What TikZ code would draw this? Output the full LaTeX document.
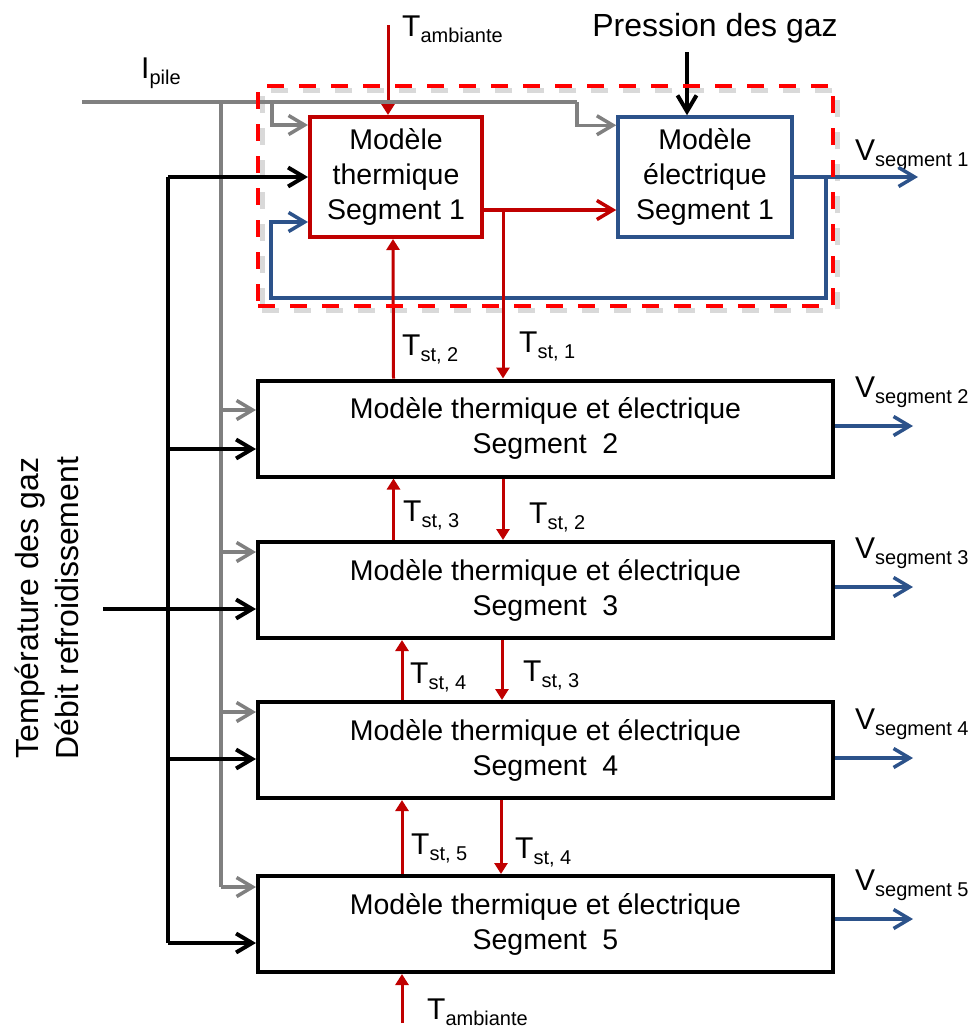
\documentclass[tikz,border=0pt]{standalone}
\usepackage{fontspec}
\setmainfont{Liberation Sans}
\usetikzlibrary{arrows.meta,positioning}
\definecolor{pcred}{RGB}{192,0,0}
\definecolor{pcdash}{RGB}{255,0,0}
\definecolor{pcblue}{RGB}{44,82,138}
\definecolor{pcgray}{RGB}{128,128,128}
\newcommand{\subtx}[1]{\raisebox{-0.22em}{\fontsize{20}{20}\selectfont #1}}

\begin{document}
\begin{tikzpicture}[x=1pt, y=-1pt,
  font=\fontsize{28.5}{35}\selectfont,
  thbox/.style={draw=pcred, line width=4pt, minimum width=172pt,
                minimum height=120pt, align=center, inner sep=0pt},
  elbox/.style={draw=pcblue, line width=3.5pt, minimum width=174pt,
                minimum height=120pt, align=center, inner sep=0pt},
  segbox/.style={draw=black, line width=4pt, minimum width=575pt,
                 minimum height=96pt, align=center, inner sep=0pt},
  grp/.style={draw=pcdash, line width=3.5pt, dash pattern=on 17pt off 15pt,
              minimum width=575pt, minimum height=220pt, inner sep=0pt},
  lab/.style={anchor=base west, inner sep=0pt, font=\fontsize{30}{36}\selectfont},
  opentip/.style={-{Straight Barb[length=16pt,width=19pt]}},
  grayln/.style={draw=pcgray, line width=3.5pt},
  grayarr/.style={grayln, opentip},
  blkln/.style={draw=black, line width=4pt},
  blkarr/.style={blkln, opentip},
  bluarr/.style={draw=pcblue, line width=3.5pt, opentip},
  redopen/.style={draw=pcred, line width=3.5pt, opentip},
  redarr/.style={draw=pcred, line width=3pt, -{Triangle[length=11pt,width=13pt]}}
]
\useasboundingbox (0,0) rectangle (977,1028);

% --- shadow of the segment-1 group ---
\node[grp, draw=black!25, line width=5pt, opacity=0.6] (grpsh) at (549.5,200) {};

% --- segment 1: thermal + electrical ---
\node[thbox] (thermA) at (396,177) {Modèle\\thermique\\Segment 1};
\node[elbox] (elecA) at (705,177) {Modèle\\électrique\\Segment 1};

\node[lab] (tamb1) at (402,36) {T\subtx{ambiante}};
\node[anchor=base, inner sep=0pt, font=\fontsize{32}{38}\selectfont] (pgaz) at (715,36)
  {Pression des gaz};
\node[lab] (ipile) at (141,78) {I\subtx{pile}};
\node[lab] (vl1) at (855,160) {V\subtx{segment 1}};

\coordinate (tain) at (388,25);
\coordinate (pin) at (687,52);
\draw[redarr] (tain) -- ([xshift=-8pt]thermA.north);
\draw[blkarr] (pin) -- ([xshift=-18pt]elecA.north);

% current line
\coordinate (ipl) at (82,102);
\coordinate (ipr) at (577,102);
\coordinate (ipb) at (272,102);
\coordinate (ipbus) at (221,102);
\coordinate (ipbot) at (221,887);
\draw[grayln] (ipl) -- (ipr);
\draw[grayarr] (ipr) |- ([yshift=-10pt]elecA.north west);
\draw[grayarr] (ipb) |- ([yshift=-10pt]thermA.north west);
\draw[grayln] (ipbus) -- (ipbot);

% gas / cooling inputs
\coordinate (blktop) at (168,177);
\coordinate (blkbot) at (168,943);
\draw[blkln] (blktop) -- (blkbot);
\draw[blkarr] (blktop) -- (thermA.west);

% thermal -> electrical, electrical feedback
\coordinate (tsplit) at (503,210);
\draw[redopen] ([yshift=-33pt]thermA.east) -- ([yshift=-33pt]elecA.west);
\coordinate (v1end) at (918,177);
\coordinate (fbk) at (826,177);
\coordinate (fbl) at (271,298);
\draw[bluarr] (elecA.east) -- (v1end);
\draw[bluarr] (fbk) |- (fbl) |- ([yshift=-45pt]thermA.west);

% --- segments 2 to 5 ---
\foreach \k/\y/\g/\bx/\b/\v in {2/428.5/410/168/449/426, 3/590/552/103/609/587,
                              4/750/712/168/759/758, 5/924/887/168/943/919} {
  \node[segbox] (seg\k) at (545.5,\y) {Modèle thermique et électrique\\Segment~~\k};
  \coordinate (gb\k) at (221,\g);
  \coordinate (bb\k) at (\bx,\b);
  \coordinate (vo\k) at (913,\v);
  \draw[grayarr] (gb\k) -- (seg\k.west |- gb\k);
  \draw[blkarr] (bb\k) -- (seg\k.west |- bb\k);
  \draw[bluarr] (seg\k.east |- vo\k) -- (vo\k);
  \node[lab] (vl\k) at (855,\v-29) {V\subtx{segment \k}};
}

% stack temperatures
\draw[redarr] ([xshift=-152pt]seg2.north) -- ([xshift=-3pt]thermA.south);
\draw[redarr] (tsplit) -- (tsplit |- seg2.north);
\draw[redarr] ([xshift=-152pt]seg3.north) -- ([xshift=-152pt]seg2.south);
\draw[redarr] ([xshift=-42.5pt]seg2.south) -- ([xshift=-42.5pt]seg3.north);
\draw[redarr] ([xshift=-143.5pt]seg4.north) -- ([xshift=-143.5pt]seg3.south);
\draw[redarr] ([xshift=-43.5pt]seg3.south) -- ([xshift=-43.5pt]seg4.north);
\draw[redarr] ([xshift=-143.5pt]seg5.north) -- ([xshift=-143.5pt]seg4.south);
\draw[redarr] ([xshift=-44.5pt]seg4.south) -- ([xshift=-44.5pt]seg5.north);
\coordinate (tbin) at (402,1023);
\draw[redarr] (tbin) -- ([xshift=-143.5pt]seg5.south);

\node[lab] (ts12) at (402,355) {T\subtx{st, 2}};
\node[lab] (ts11) at (519,352) {T\subtx{st, 1}};
\node[lab] (ts23) at (403,521) {T\subtx{st, 3}};
\node[lab] (ts22) at (529,523) {T\subtx{st, 2}};
\node[lab] (ts34) at (410,683) {T\subtx{st, 4}};
\node[lab] (ts33) at (523,681) {T\subtx{st, 3}};
\node[lab] (ts45) at (411,854) {T\subtx{st, 5}};
\node[lab] (ts44) at (515,858) {T\subtx{st, 4}};
\node[lab] (tamb2) at (427,1019) {T\subtx{ambiante}};

\node[rotate=90, align=center, inner sep=0pt, font=\fontsize{32}{40}\selectfont] (gaz)
  at (47,608) {Température des gaz\\Débit refroidissement};

% --- group frame ---
\node[grp] (grpA) at (545.5,196) {};

\end{tikzpicture}
\end{document}
